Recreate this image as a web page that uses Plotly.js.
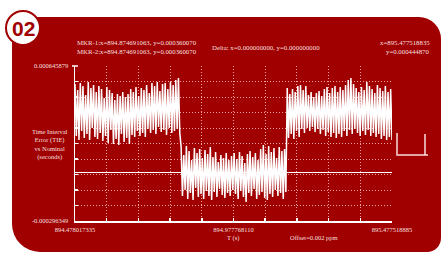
<!DOCTYPE html>
<html>
<head>
<meta charset="utf-8">
<script src="https://cdn.plot.ly/plotly-3.0.1.min.js"></script>
<style>
  html, body { margin: 0; padding: 0; background: #ffffff; }
  #wrap { position: relative; width: 447px; height: 258px; overflow: hidden; background: #ffffff; }
  #card { position: absolute; left: 12px; top: 17px; width: 429px; height: 235px; background: #a00000;
          border-radius: 14px 22px 14px 28px; }
  #badge { position: absolute; left: 5px; top: 10px; width: 32px; height: 32px; border-radius: 50%;
           background: #ffffff; border: 2.5px solid #a00000; }
  #chart { position: absolute; left: 0; top: 0; width: 447px; height: 258px; }
</style>
</head>
<body>
<div id="wrap">
  <div id="card"></div>
  <div id="badge"></div>
  <div id="chart"></div>
</div>
<script>
// ---- data ----
const timeStart = 894.478017335;   // s, left end of the time axis
const timeMid   = 894.977768110;   // s, centre label
const timeEnd   = 895.477518885;   // s, right end of the time axis
const xTickText = ['894.478017335', '894.977768110', '895.477518885'];

const tieTop    = 645.879;         // µs  (0.000645879 s)
const tieBottom = -296.349;        // µs  (-0.000296349 s)
const yTickText = ['0.000645879', '-0.000296349'];

// TIE samples (µs), alternating crest / trough of the dense trace
const tieSegment1 = [536,220, 500,196, 543,251, 524,208, 470,233, 549,196, 512,269, 530,214, 488,202, 524,239,
                     506,190, 451,220, 518,178, 500,257, 482,172, 439,202, 476,166, 464,233, 488,184, 457,208,
                     476,172, 506,226, 488,214, 518,251, 464,220, 512,239, 500,214, 530,263, 482,239, 543,257,
                     524,233, 549,275, 494,245, 536,257, 543,226, 506,269, 549,239, 530,251, 561,263, 573,239];
const tieSegment2 = [154,-144, 105,-108, 160,-163, 129,-126, 74,-169, 147,-96, 117,-150, 141,-132, 87,-163, 135,-114,
                     111,-144, 154,-169, 93,-120, 123,-150, 62,-102, 105,-138, 87,-157, 117,-126, 74,-144, 99,-108,
                     117,-132, 81,-163, 123,-114, 99,-150, 56,-181, 111,-126, 129,-144, 93,-102, 117,-163, 74,-138,
                     141,-120, 166,-157, 111,-169, 160,-132, 123,-150, 147,-108, 87,-144, 154,-126, 129,-163, 141,-120];
const tieSegment3 = [512,208, 476,233, 506,202, 488,251, 524,214, 530,263, 500,239, 524,269, 470,251, 488,275,
                     457,245, 482,263, 494,233, 464,257, 506,220, 518,245, 482,214, 512,239, 524,208, 488,233,
                     518,214, 500,251, 530,220, 561,257, 573,233, 536,263, 512,239, 488,220, 518,251, 500,226,
                     549,257, 524,220, 506,239, 482,214, 530,233, 512,202, 494,220, 524,196, 488,214, 506,196];
const tieValues = tieSegment1.concat(tieSegment2, tieSegment3);

const annotationTexts = {
  mkr1: 'MKR-1:x=894.874691063, y=0.000360070',
  mkr2: 'MKR-2:x=894.874691063, y=0.000360070',
  delta: 'Delta: x=0.000000000, y=0.000000000',
  cursorX: 'x=895.477518835',
  cursorY: 'y=0.000444870',
  offset: 'Offset=0.002 ppm',
  xTitle: 'T (s)',
  yTitle: 'Time Interval<br>Error (TIE)<br>vs Nominal<br>(seconds)',
  badge: '02'
};

// ---- build ----
const n = tieValues.length;
const sampleTimes = tieValues.map((_, i) => timeStart + i * (timeEnd - timeStart) / (n - 1));

const xTickVals = [], xTickLabels = [], yTickVals = [], yTickLabels = [];
for (let k = 0; k <= 10; k++) {
  xTickVals.push(timeStart + k * (timeEnd - timeStart) / 10);
  xTickLabels.push(k === 0 ? xTickText[0] : k === 5 ? xTickText[1] : k === 10 ? xTickText[2] : '');
  yTickVals.push(tieBottom + k * (tieTop - tieBottom) / 10);
  yTickLabels.push(k === 0 ? yTickText[1] : k === 10 ? yTickText[0] : '');
}

// plot area in pixels
const L = 75, R = 392, T = 66, B = 221;
const px = x => (x - L) / (R - L);
const py = y => (B - y) / (B - T);

const txtColor = 'rgba(255,238,238,0.95)';
const serif = 'Liberation Serif, Times New Roman, serif';
const gridColor = 'rgba(255,180,180,0.9)';

function ann(text, x, y, xanchor, size, extra) {
  return Object.assign({ text: text, x: px(x), y: py(y), xref: 'paper', yref: 'paper',
    xanchor: xanchor, yanchor: 'middle', showarrow: false,
    font: { family: serif, size: size, color: txtColor } }, extra || {});
}

const traces = [{
  x: sampleTimes, y: tieValues, type: 'scatter', mode: 'lines',
  line: { color: '#ffffff', width: 1.5 }, hoverinfo: 'skip'
}];

const layout = {
  width: 447, height: 258,
  margin: { l: L, r: 447 - R, t: T, b: 258 - B, pad: 0 },
  paper_bgcolor: 'rgba(0,0,0,0)', plot_bgcolor: 'rgba(0,0,0,0)',
  showlegend: false,
  xaxis: {
    range: [timeStart, timeEnd], tickmode: 'array', tickvals: xTickVals, ticktext: xTickLabels,
    showgrid: true, gridcolor: gridColor, griddash: '1px,2px', gridwidth: 1,
    showline: true, linecolor: '#ffffff', linewidth: 1.5,
    ticks: 'inside', ticklen: 3, tickwidth: 1.5, tickcolor: '#ffffff', ticklabelstandoff: 2,
    tickfont: { family: serif, size: 6.5, color: txtColor }, zeroline: false, fixedrange: true
  },
  yaxis: {
    range: [tieBottom, tieTop], tickmode: 'array', tickvals: yTickVals, ticktext: yTickLabels,
    showgrid: true, gridcolor: gridColor, griddash: '1px,2px', gridwidth: 1,
    showline: true, linecolor: '#ffffff', linewidth: 1.5,
    ticks: 'inside', ticklen: 3, tickwidth: 1.5, tickcolor: '#ffffff', ticklabelstandoff: 4,
    tickfont: { family: serif, size: 6.5, color: txtColor },
    zeroline: true, zerolinecolor: '#ffffff', zerolinewidth: 1.5, fixedrange: true
  },
  shapes: [
    // crossbar at the top of the value axis
    { type: 'line', xref: 'paper', yref: 'paper', x0: px(72), x1: px(78), y0: py(66), y1: py(66),
      line: { color: '#ffffff', width: 1.5 } },
    // bracket marker at the right
    { type: 'path', xref: 'paper', yref: 'paper',
      path: 'M ' + px(397) + ' ' + py(133) + ' L ' + px(397) + ' ' + py(155) + ' L ' + px(428) + ' ' + py(155),
      line: { color: 'rgba(255,232,232,0.95)', width: 1.5 } },
    { type: 'line', xref: 'paper', yref: 'paper', x0: px(425), x1: px(425), y0: py(134), y1: py(155),
      line: { color: 'rgba(255,232,232,0.95)', width: 1.5 } }
  ],
  annotations: [
    ann(annotationTexts.mkr1, 75, 43, 'left', 6.8),
    ann(annotationTexts.mkr2, 75, 51, 'left', 6.8),
    ann(annotationTexts.delta, 210, 47, 'left', 6.8),
    ann(annotationTexts.cursorX, 432, 43, 'right', 6.8),
    ann(annotationTexts.cursorY, 432, 51, 'right', 6.8),
    ann(annotationTexts.offset, 314, 237, 'center', 6.5),
    ann(annotationTexts.xTitle, 233, 237.5, 'center', 6.5),
    ann(annotationTexts.yTitle, 50, 144, 'center', 6.5, { align: 'center' }),
    { text: '<b>' + annotationTexts.badge + '</b>', x: px(23), y: py(28.5), xref: 'paper', yref: 'paper',
      xanchor: 'center', yanchor: 'middle', showarrow: false,
      font: { family: 'Liberation Sans, Arial, sans-serif', size: 21, color: '#a00000' } }
  ]
};

Plotly.newPlot('chart', traces, layout, { displayModeBar: false, staticPlot: true });
</script>
</body>
</html>
